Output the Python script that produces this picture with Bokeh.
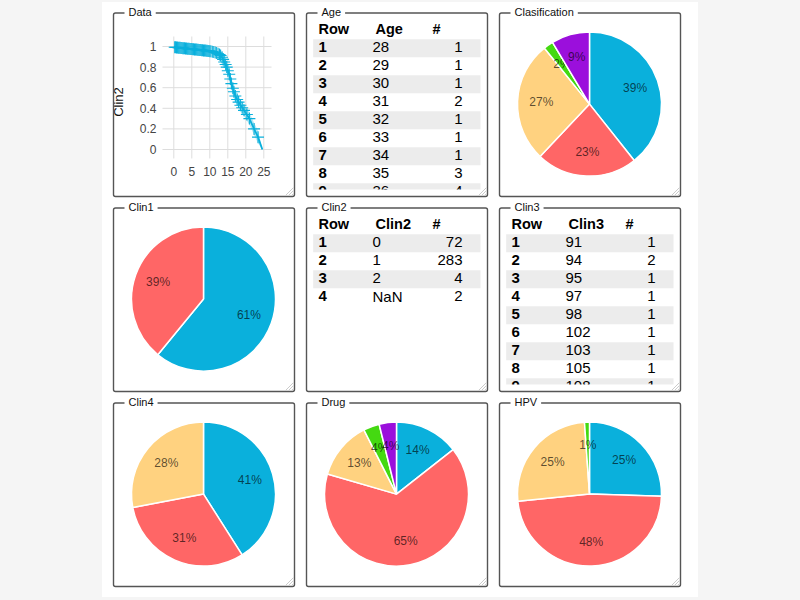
import math
from bokeh.core.properties import value
from bokeh.embed import file_html
from bokeh.layouts import column, row
from bokeh.models import Arrow, BoxAnnotation, FixedTicker, Label, Range1d, Spacer
from bokeh.plotting import figure
from bokeh.resources import INLINE

# ---- data -----------------------------------------------------------------
pie_colors = ["#0AB0DC", "#FF6666", "#FFD280", "#44D911", "#9B0FDC"]
classification_counts = [142, 82, 98, 8, 31]
clin1_counts = [220, 141]
clin4_counts = [148, 112, 101]
drug_counts = [52, 235, 47, 13, 14]
hpv_counts = [92, 173, 92, 4]

age_values = ["28", "29", "30", "31", "32", "33", "34", "35", "36"]
age_counts = ["1", "1", "1", "2", "1", "1", "1", "3", "4"]
clin2_values = ["0", "1", "2", "NaN"]
clin2_table_counts = ["72", "283", "4", "2"]
clin3_values = ["91", "94", "95", "97", "98", "102", "103", "105", "108"]
clin3_counts = ["1", "2", "1", "1", "1", "1", "1", "1", "1"]

curve_t = [0, 1, 3, 5, 8, 10, 11, 12, 13, 13.4, 14, 14.7, 15.4, 16, 16.7, 17.1, 18, 19.5, 21, 22.3, 23.4, 24.6]
curve_s = [1, 0.99, 0.982, 0.975, 0.963, 0.955, 0.947, 0.934, 0.912, 0.895, 0.85, 0.80, 0.73, 0.64, 0.56, 0.52,
           0.46, 0.38, 0.30, 0.20, 0.12, 0.0]
band_upper = [1, 0.995, 0.989, 0.983, 0.972, 0.966, 0.96, 0.95, 0.93, 0.915, 0.88, 0.835, 0.775, 0.695, 0.615,
              0.58, 0.515, 0.435, 0.36, 0.26, 0.18, 0.0]
band_lower = [1, 0.985, 0.975, 0.967, 0.954, 0.944, 0.934, 0.918, 0.894, 0.875, 0.82, 0.765, 0.685, 0.585, 0.505,
              0.46, 0.405, 0.325, 0.24, 0.14, 0.06, 0.0]
censor_t = [0.25, 0.5, 0.75, 1.0, 1.25, 1.5, 1.75, 2, 2.25, 2.5, 2.75, 3, 3.25, 3.5, 3.75, 4, 4.25, 4.5, 4.75, 5,
            5.25, 5.5, 5.75, 6, 6.25, 6.5, 6.75, 7, 7.25, 7.5, 7.75, 8, 8.25, 8.5, 8.75, 9, 9.25, 9.5, 9.75, 10,
            10.3, 10.7, 11.1, 11.5, 11.9, 12.3, 12.7, 13.0, 13.4, 13.7, 14.0, 14.4, 14.7, 15.0, 15.4, 15.7, 16.0,
            16.4, 16.7, 17.1, 17.6, 18, 18.5, 19, 19.5, 20.3, 21, 22.3, 23.4]
censor_s = [0.993, 0.992, 0.991, 0.990, 0.989, 0.988, 0.987, 0.986, 0.985, 0.984, 0.983, 0.982, 0.981, 0.980,
            0.979, 0.978, 0.977, 0.976, 0.976, 0.975, 0.974, 0.973, 0.972, 0.971, 0.970, 0.969, 0.968, 0.967,
            0.966, 0.965, 0.964, 0.963, 0.962, 0.961, 0.960, 0.959, 0.958, 0.957, 0.956, 0.955,
            0.953, 0.950, 0.946, 0.942, 0.936, 0.930, 0.922, 0.912, 0.895, 0.875, 0.85, 0.825, 0.80, 0.765, 0.73,
            0.685, 0.64, 0.595, 0.56, 0.52, 0.485, 0.46, 0.43, 0.405, 0.38, 0.34, 0.30, 0.20, 0.12]
x_ticks = [0, 5, 10, 15, 20, 25]
y_ticks = [0, 0.2, 0.4, 0.6, 0.8, 1]

# ---- layout constants -----------------------------------------------------
FW, FH = 193, 195
PX, PY, PW, PH = 6, 9, 181, 183
LINE = "#555555"
FONT = "Liberation Sans"


def decorate(p):
    p.add_layout(BoxAnnotation(left=PX, right=PX + PW, top=PY - 0.5, bottom=PY + PH,
                               left_units="canvas", right_units="canvas", top_units="canvas", bottom_units="canvas",
                               fill_alpha=0, line_color=LINE, line_alpha=1, line_width=1.4, border_radius=2))
    for d in (3, 6, 9):
        p.add_layout(Arrow(end=None, x_start=PX + PW - d, y_start=PY + PH - 1, x_end=PX + PW - 1, y_end=PY + PH - d,
                           start_units="canvas", end_units="canvas", line_color="#cccccc", line_width=1))


def add_title(p, title):
    p.add_layout(Label(x=PX + 11, y=PY - 2, x_units="canvas", y_units="canvas", text=title,
                       text_font=FONT, text_font_size="11px", text_color="#111111",
                       text_align="left", text_baseline="middle",
                       background_fill_color="white", border_line_alpha=0, padding=(4, 1)))


def base(h, **kw):
    return figure(width=FW, height=h, output_backend="svg", toolbar_location=None, min_border=0,
                  outline_line_color=None, background_fill_color="white", border_fill_color="white",
                  frame_align=False, **kw)


def pie(counts, title, h=FH):
    R = 72
    cx, cy = PX + 90, PY + 90.6
    p = base(h, x_range=Range1d(-cx / R, (FW - cx) / R), y_range=Range1d(-(h - cy) / R, cy / R))
    p.axis.visible = False
    p.grid.visible = False
    total = sum(counts)
    cum = 0
    for c, col in zip(counts, pie_colors):
        a0, a1 = cum / total, (cum + c) / total
        mid = (a0 + a1) * math.pi
        p.wedge(x=0, y=0, radius=1, start_angle=math.pi / 2 - a0 * 2 * math.pi,
                end_angle=math.pi / 2 - a1 * 2 * math.pi, direction="clock",
                fill_color=col, line_color="white", line_width=1.5)
        p.text(x=[0.67 * math.sin(mid)], y=[0.67 * math.cos(mid) + 0.007], text=[f"{round(100 * c / total)}%"],
               text_font=value(FONT), text_font_size="12px", text_color="#000000", text_alpha=0.65,
               text_align="center", text_baseline="middle")
        cum += c
    decorate(p)
    add_title(p, title)
    return p


def table(header, values, counts, title):
    p = base(FH, x_range=Range1d(0, FW), y_range=Range1d(FH, 0))
    p.axis.visible = False
    p.grid.visible = False
    rows = list(range(1, len(values) + 1))
    y_row = [PY + 34.7 + 18 * i for i in range(len(values))]
    striped = y_row[::2]
    p.quad(left=PX + 6.7, right=PX + 174, top=[y - 9 for y in striped], bottom=[y + 9 for y in striped],
           fill_color="#ECECEC", line_color=None)
    hdr = dict(text_font=value(FONT), text_font_size="14.5px", text_font_style="bold", text_color="#000000",
               text_baseline="middle", text_align="left")
    y_h = PY + 15.5
    p.text(x=[PX + 12], y=[y_h], text=["Row"], **hdr)
    p.text(x=[PX + 69], y=[y_h], text=[header], **hdr)
    p.text(x=[PX + 126], y=[y_h], text=["#"], **hdr)
    cell = dict(text_font=value(FONT), text_font_size="15px", text_color="#000000", text_baseline="middle")
    y_txt = [y - 0.8 for y in y_row]
    p.text(x=[PX + 12] * len(rows), y=y_txt, text=[str(r) for r in rows], text_font_style="bold",
           text_align="left", **cell)
    p.text(x=[PX + 66] * len(values), y=y_txt, text=values, text_align="left", **cell)
    p.text(x=[PX + 156] * len(counts), y=y_txt, text=counts, text_align="right", **cell)
    if len(values) > 8:
        p.quad(left=0, right=FW, top=PY + 176, bottom=FH, fill_color="white", line_color=None)
    decorate(p)
    add_title(p, title)
    return p


def data_panel():
    sx, sy = 3.6, 103
    ox, oy = 66.3, 42      # where t=0 and S=1 fall inside the figure
    xmin, xmax = -3.14, 27.14
    ymin, ymax = -0.087, 1.097
    p = base(FH, x_range=Range1d(-ox / sx, (FW - ox) / sx), y_range=Range1d(1 - (FH - oy) / sy, 1 + oy / sy))
    p.grid.visible = False
    p.xaxis.ticker = FixedTicker(ticks=x_ticks)
    p.yaxis.ticker = FixedTicker(ticks=y_ticks)
    p.yaxis.major_label_overrides = {0: "0", 0.2: "0.2", 0.4: "0.4", 0.6: "0.6", 0.8: "0.8", 1: "1"}
    p.xaxis.fixed_location = ymin
    p.yaxis.fixed_location = xmin
    p.axis.axis_line_color = None
    p.axis.major_tick_line_color = None
    p.axis.minor_tick_line_color = None
    p.axis.major_label_text_font = FONT
    p.axis.major_label_text_font_size = "12px"
    p.axis.major_label_text_color = "#444444"
    p.xaxis.major_label_standoff = 3
    p.yaxis.major_label_standoff = 0
    p.yaxis.axis_label = "Clin2"
    p.yaxis.axis_label_text_font = FONT
    p.yaxis.axis_label_text_font_style = "normal"
    p.yaxis.axis_label_text_font_size = "13px"
    p.yaxis.axis_label_text_color = "#111111"
    p.yaxis.axis_label_standoff = 11
    p.segment(x0=x_ticks, x1=x_ticks, y0=ymin, y1=ymax, line_color="#DDDDDD", line_width=1)
    p.segment(x0=xmin, x1=xmax, y0=y_ticks, y1=y_ticks, line_color="#DDDDDD", line_width=1)
    p.varea(x=curve_t, y1=band_lower, y2=band_upper, fill_color="#0AB0DC", fill_alpha=0.3)
    p.line(x=curve_t, y=curve_s, line_color="#0AB0DC", line_width=1.8)
    p.scatter(x=censor_t, y=censor_s, marker="cross", size=12, line_color="#0AB0DC", line_width=1.1)
    decorate(p)
    add_title(p, "Data")
    return p


rows_ = [
    [data_panel(), table("Age", age_values, age_counts, "Age"), pie(classification_counts, "Clasification")],
    [pie(clin1_counts, "Clin1"), table("Clin2", clin2_values, clin2_table_counts, "Clin2"),
     table("Clin3", clin3_values, clin3_counts, "Clin3")],
    [pie(clin4_counts, "Clin4"), pie(drug_counts, "Drug"), pie(hpv_counts, "HPV")],
]

card = column(*[row(Spacer(width=5, height=10), *r, Spacer(width=12, height=10), spacing=0) for r in rows_],
              spacing=0, width=596, height=585,
              styles={"background": "#ffffff", "box-shadow": "0 -2px 0 0 #ffffff, 0 8px 0 0 #ffffff"})
body = column(Spacer(width=596, height=4), card, spacing=0, width=596, height=589)
p = row(Spacer(width=102, height=589), body, Spacer(width=94, height=589), spacing=0, width=792, height=589,
        styles={"background": "#F5F5F5", "box-shadow": "0 0 0 60px #F5F5F5"})

open("out.html", "w").write(file_html(p, INLINE))
